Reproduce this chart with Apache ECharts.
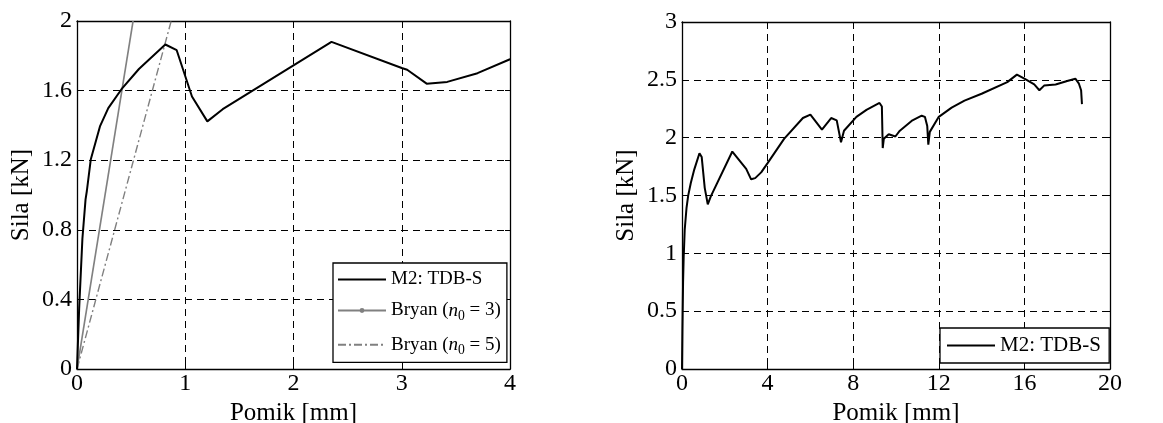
<!DOCTYPE html>
<html>
<head>
<meta charset="utf-8">
<script src="https://cdn.jsdelivr.net/npm/echarts@6/dist/echarts.min.js"></script>
<style>
html,body{margin:0;padding:0;background:#fff;}
#c{width:1163px;height:423px;}
</style>
</head>
<body>
<div id="c"></div>
<script>
// ---- data ----
const m2Pomik = [0, 0.02, 0.05, 0.079, 0.091, 0.127, 0.212, 0.289, 0.411, 0.572, 0.816, 0.921, 1.062, 1.204, 1.346, 2.351, 3.0, 3.05, 3.23, 3.42, 3.7, 4.0, 4.77, 5.65, 6.0, 6.54, 6.97, 7.23, 7.43, 7.57, 8.15, 8.62, 9.23, 9.34, 9.38, 9.43, 9.66, 9.97, 10.18, 10.77, 11.2, 11.35, 11.46, 11.51, 11.58, 12.0, 12.6, 13.2, 14.0, 15.2, 15.65, 16.0, 16.46, 16.7, 16.92, 17.46, 18.0, 18.38, 18.54, 18.65, 18.69];
const m2Sila  = [0, 0.35, 0.75, 0.975, 1.023, 1.204, 1.394, 1.499, 1.608, 1.724, 1.865, 1.832, 1.566, 1.423, 1.493, 1.88, 1.73, 1.72, 1.64, 1.65, 1.70, 1.78, 1.99, 2.17, 2.2, 2.07, 2.17, 2.15, 1.96, 2.06, 2.18, 2.24, 2.3, 2.27, 1.91, 1.99, 2.03, 2.01, 2.06, 2.15, 2.19, 2.18, 2.1, 1.94, 2.05, 2.18, 2.26, 2.32, 2.38, 2.48, 2.545, 2.51, 2.46, 2.41, 2.45, 2.46, 2.49, 2.51, 2.47, 2.41, 2.29];
const bryan3Pomik = [0, 0.518];
const bryan3Sila  = [0, 2.0];
const bryan5Pomik = [0, 0.87];
const bryan5Sila  = [0, 2.0];
const leftXTicks  = [0, 1, 2, 3, 4];
const leftYTicks  = [0, 0.4, 0.8, 1.2, 1.6, 2];
const rightXTicks = [0, 4, 8, 12, 16, 20];
const rightYTicks = [0, 0.5, 1, 1.5, 2, 2.5, 3];
const seriesNames = ['M2: TDB-S', 'Bryan (n0 = 3)', 'Bryan (n0 = 5)'];

const zip = (a, b) => a.map((v, i) => [v, b[i]]);
const FONT = 'Liberation Serif';
const TICK_FS = 24;
const NAME_FS = 25;
const gridLine = {show: true, lineStyle: {color: '#000', width: 1, type: [7, 5]}};

function xAxis(gi, ticks, pos, shown) {
  return {
    type: 'value', gridIndex: gi, position: pos,
    min: ticks[0], max: ticks[ticks.length - 1], interval: ticks[1] - ticks[0],
    axisLine: {show: true, onZero: false, lineStyle: {color: '#000', width: 1.3}},
    axisTick: {show: true, inside: true, length: 5, lineStyle: {color: '#000'}},
    axisLabel: {show: shown, color: '#000', fontFamily: FONT, fontSize: TICK_FS, margin: 3},
    splitLine: shown ? gridLine : {show: false},
    name: shown ? 'Pomik [mm]' : '', nameLocation: 'middle', nameGap: 28,
    nameTextStyle: {color: '#000', fontFamily: FONT, fontSize: NAME_FS}
  };
}
function yAxis(gi, ticks, pos, shown) {
  return {
    type: 'value', gridIndex: gi, position: pos,
    min: ticks[0], max: ticks[ticks.length - 1], interval: ticks[1] - ticks[0],
    axisLine: {show: true, onZero: false, lineStyle: {color: '#000', width: 1.3}},
    axisTick: {show: true, inside: true, length: 5, lineStyle: {color: '#000'}},
    axisLabel: {show: shown, color: '#000', fontFamily: FONT, fontSize: TICK_FS, margin: 5,
      formatter: v => String(Math.round(v * 10) / 10)},
    splitLine: shown ? gridLine : {show: false},
    name: shown ? 'Sila [kN]' : '', nameLocation: 'middle', nameGap: 43,
    nameTextStyle: {color: '#000', fontFamily: FONT, fontSize: NAME_FS}
  };
}

const richLeg = (fs) => ({
  i: {fontFamily: FONT, fontSize: fs, fontStyle: 'italic', color: '#000'},
  s: {fontFamily: FONT, fontSize: fs * 0.72, color: '#000', padding: [fs * 0.6, 0, 0, 0]},
  t: {fontFamily: FONT, fontSize: fs, color: '#000'}
});
const legFmt = name => {
  const m = name.match(/^(.*)\(n0 = (\d)\)$/);
  if (!m) return '{t|' + name + '}';
  return '{t|' + m[1] + '(}{i|n}{s|0}{t| = ' + m[2] + ')}';
};
const hideDot = {opacity: 0};

const chart = echarts.init(document.getElementById('c'), null, {renderer: 'canvas'});
chart.setOption({
  backgroundColor: '#fff',
  animation: false,
  grid: [
    {left: 77, top: 21, width: 433, height: 348, outerBoundsMode: 'none', containLabel: false},
    {left: 682, top: 22, width: 428, height: 347, outerBoundsMode: 'none', containLabel: false}
  ],
  xAxis: [
    xAxis(0, leftXTicks, 'bottom', true), xAxis(0, leftXTicks, 'top', false),
    xAxis(1, rightXTicks, 'bottom', true), xAxis(1, rightXTicks, 'top', false)
  ],
  yAxis: [
    yAxis(0, leftYTicks, 'left', true), yAxis(0, leftYTicks, 'right', false),
    yAxis(1, rightYTicks, 'left', true), yAxis(1, rightYTicks, 'right', false)
  ],
  legend: [
    {
      left: 333, top: 263, orient: 'vertical', itemGap: 12, itemWidth: 48, itemHeight: 6,
      padding: [7, 6, 5, 4], borderColor: '#000', borderWidth: 1.3, backgroundColor: '#fff',
      data: [
        {name: seriesNames[0], itemStyle: hideDot},
        {name: seriesNames[1]},
        {name: seriesNames[2], itemStyle: hideDot}
      ],
      formatter: legFmt,
      textStyle: {fontFamily: FONT, fontSize: 19, color: '#000', rich: richLeg(19)}
    },
    {
      left: 940, top: 328, orient: 'vertical', itemWidth: 48, itemHeight: 6,
      padding: [7, 3, 7, 6], borderColor: '#000', borderWidth: 1.3, backgroundColor: '#fff',
      data: [{name: 'M2: TDB-S ', itemStyle: hideDot}],
      textStyle: {fontFamily: FONT, fontSize: 21, color: '#000'}
    }
  ],
  series: [
    {name: seriesNames[0], type: 'line', xAxisIndex: 0, yAxisIndex: 0, data: zip(m2Pomik, m2Sila),
      symbol: 'none', clip: true, lineStyle: {color: '#000', width: 2}, itemStyle: {color: '#000'}, z: 5},
    {name: seriesNames[1], type: 'line', xAxisIndex: 0, yAxisIndex: 0, data: zip(bryan3Pomik, bryan3Sila),
      symbol: 'circle', symbolSize: 5, showSymbol: false, clip: true,
      lineStyle: {color: '#808080', width: 1.6}, itemStyle: {color: '#808080'}},
    {name: seriesNames[2], type: 'line', xAxisIndex: 0, yAxisIndex: 0, data: zip(bryan5Pomik, bryan5Sila),
      symbol: 'none', clip: true,
      lineStyle: {color: '#808080', width: 1.4, type: [8, 3, 2, 3]}, itemStyle: {color: '#808080'}},
    {name: 'M2: TDB-S ', type: 'line', xAxisIndex: 2, yAxisIndex: 2, data: zip(m2Pomik, m2Sila),
      symbol: 'none', clip: true, lineStyle: {color: '#000', width: 2}, itemStyle: {color: '#000'}}
  ]
});
</script>
</body>
</html>
